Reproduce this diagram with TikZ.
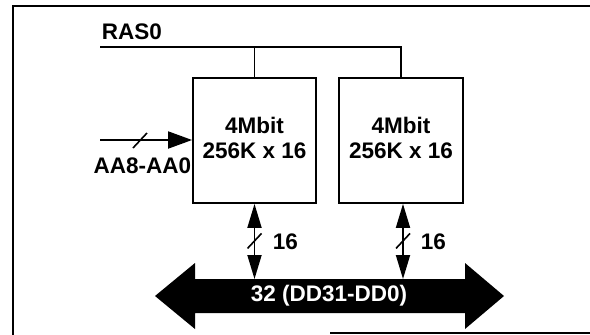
\documentclass[tikz,border=0pt]{standalone}
\usepackage{fontspec}
\setmainfont{Liberation Sans}
\usetikzlibrary{arrows.meta,calc}
\begin{document}
\begin{tikzpicture}[x=1pt,y=-1pt,line width=1.8pt,
  txt/.style={font=\fontsize{22.5}{25}\selectfont\bfseries,inner sep=0pt},
  membox/.style={draw,rectangle,inner sep=0pt,align=center,text depth=5pt,
    font=\fontsize{22.5}{25}\selectfont\bfseries},
  addrarrow/.style={-{Triangle[length=24pt,width=17pt]}},
  databus/.style={{Triangle[length=24pt,width=14pt]}-{Triangle[length=24pt,width=14pt]}},
  slash/.style={line width=1.6pt}]
\useasboundingbox (0,0) rectangle (590,335);
% frame
\coordinate (fTR) at (592,6);
\coordinate (fTL) at (13,6);
\coordinate (fBL) at (13,337);
\coordinate (fB1) at (330,333);
\coordinate (fB2) at (592,333);
\draw (fTR) -- (fTL) -- (fBL);
\draw (fB1) -- (fB2);
% memory boxes
\node[membox,minimum width=123pt,minimum height=125pt] (box1) at (254.5,140.5) {4Mbit\\256K x 16};
\node[membox,minimum width=124pt,minimum height=125pt] (box2) at (401,140.5) {4Mbit\\256K x 16};
% RAS0
\node[txt,anchor=base west] (ras) at (101,39) {RAS0};
\coordinate (rasL) at (100,47);
\draw (rasL) -| (box2.north);
\draw (box1.north) -- (box1.north |- rasL);
% address
\coordinate (addrL) at (100,140);
\draw[addrarrow] (addrL) -- (addrL -| box1.west);
\draw[slash] (133,148) -- (147,133);
\node[txt,anchor=base east] (addr) at (192,173) {AA8-AA0};
% data bus
\fill (155,296) -- (195,263) -- (195,279) -- (465,279) -- (465,263) -- (504,296)
  -- (465,329) -- (465,313) -- (195,313) -- (195,329) -- cycle;
\node[txt,text=white] (bus) at (329,296) {32 (DD31-DD0)};
\coordinate (b1) at (box1.south |- 0,279);
\coordinate (b2) at (403,279);
\draw[databus] (box1.south) -- (b1);
\draw[databus] (box2.south -| b2) -- (b2);
\draw[slash] ($(box1.south)!0.5!(b1)+(-7,7)$) -- +(14,-15);
\draw[slash] ($(box2.south -| b2)!0.5!(b2)+(-7,7)$) -- +(14,-15);
\node[txt,anchor=west] (w1) at (272,242) {16};
\node[txt,anchor=west] (w2) at (420,242) {16};
\end{tikzpicture}
\end{document}
